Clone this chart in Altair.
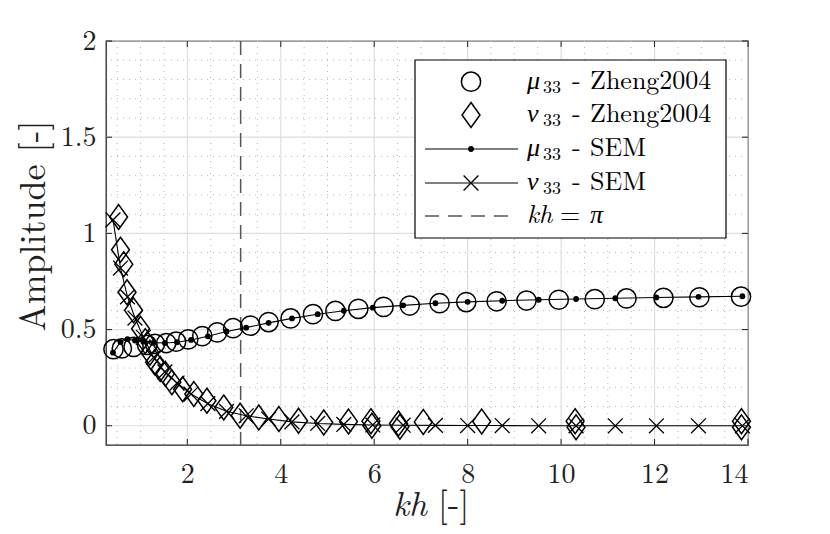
import altair as alt
import pandas as pd

# ---------------- data ----------------
sem_kh = [0.41, 0.57, 0.72, 0.88, 1.06, 1.28, 1.52, 1.78, 2.08, 2.44, 2.84, 3.26, 3.74, 4.24,
          4.79, 5.35, 5.97, 6.62, 7.31, 8.0, 8.74, 9.52, 10.32, 11.16, 12.04, 12.94, 13.88]
sem_mu = [0.38, 0.435, 0.45, 0.443, 0.437, 0.432, 0.43, 0.434, 0.446, 0.465, 0.49, 0.51, 0.535, 0.558,
          0.58, 0.598, 0.614, 0.626, 0.637, 0.644, 0.65, 0.655, 0.659, 0.663, 0.667, 0.67, 0.673]
sem_nu = [1.07, 0.82, 0.67, 0.56, 0.46, 0.355, 0.28, 0.222, 0.165, 0.115, 0.075, 0.052, 0.035, 0.02,
          0.012, 0.007, 0.004, 0.003, 0.002, 0.001, 0.001, 0.0, 0.0, 0.0, 0.0, 0.0, 0.0]

zheng_mu_kh = [0.42, 0.60, 0.85, 1.14, 1.31, 1.55, 1.76, 2.02, 2.32, 2.64, 2.98, 3.35, 3.74, 4.21,
               4.69, 5.17, 5.66, 6.20, 6.76, 7.40, 7.97, 8.62, 9.26, 9.95, 10.72, 11.40, 12.19, 12.96, 13.85]
zheng_mu = [0.398, 0.402, 0.41, 0.42, 0.426, 0.43, 0.437, 0.449, 0.466, 0.485, 0.507, 0.52, 0.539, 0.558,
            0.58, 0.597, 0.608, 0.618, 0.625, 0.637, 0.643, 0.647, 0.651, 0.655, 0.658, 0.662, 0.665, 0.668, 0.671]

zheng_nu_kh = [0.53, 0.57, 0.64, 0.71, 0.85, 1.0, 1.1, 1.2, 1.3, 1.42, 1.53, 1.67, 1.9, 2.14, 2.42, 2.78,
               3.13, 3.53, 3.96, 4.38, 4.92, 5.45, 5.93, 5.95, 6.52, 6.55, 7.05, 8.30, 10.30, 10.32, 13.86, 13.86]
zheng_nu = [1.085, 0.915, 0.84, 0.694, 0.6, 0.504, 0.44, 0.38, 0.33, 0.295, 0.27, 0.226, 0.19, 0.165, 0.13, 0.095,
            0.052, 0.043, 0.035, 0.026, 0.017, 0.022, 0.024, 0.0, 0.012, -0.005, 0.02, 0.022, 0.024, -0.008, 0.024, -0.008]

pi_kh = [3.14159]

x_ticks = [2, 4, 6, 8, 10, 12, 14]
y_ticks = [0, 0.5, 1, 1.5, 2]
x_minor = [v / 2 for v in range(1, 28) if v % 4 != 0]
y_minor = [v / 10 for v in range(1, 20) if v % 5 != 0]

# ---------------- layout / style ----------------
W, H = 642, 404
FONT = "Latin Modern Roman"
TXT = "#1f1f1f"

xs = alt.Scale(domain=[0.26, 14], nice=False, zero=False)
ys = alt.Scale(domain=[-0.1, 2], nice=False, zero=False)
xaxis = alt.Axis(values=x_ticks, grid=False, ticks=False, domain=False, title=None, format="d",
                 labelFont=FONT, labelFontSize=28, labelColor=TXT, labelPadding=15)
yaxis = alt.Axis(values=y_ticks, grid=False, ticks=False, domain=False, title=None, format="~g",
                 labelFont=FONT, labelFontSize=28, labelColor=TXT, labelPadding=10)
X = alt.X("kh:Q", scale=xs, axis=xaxis)
Y = alt.Y("amp:Q", scale=ys, axis=yaxis)

sem_mu_df = pd.DataFrame({"kh": sem_kh, "amp": sem_mu})
sem_nu_df = pd.DataFrame({"kh": sem_kh, "amp": sem_nu})
z_mu_df = pd.DataFrame({"kh": zheng_mu_kh, "amp": zheng_mu})
z_nu_df = pd.DataFrame({"kh": zheng_nu_kh, "amp": zheng_nu})

DIAMOND = "M0,-1L0.72,0L0,1L-0.72,0Z"
CROSS = "M-1,-1L1,1M-1,1L1,-1"
C_SIZE, D_SIZE, X_SIZE, DOT_SIZE = 370, 620, 220, 34

# grids
xminor = alt.Chart(pd.DataFrame({"kh": x_minor})).mark_rule(
    color="#b5b5b5", strokeWidth=1, strokeDash=[1, 5]).encode(x=X)
yminor = alt.Chart(pd.DataFrame({"amp": y_minor})).mark_rule(
    color="#b5b5b5", strokeWidth=1, strokeDash=[1, 5]).encode(y=Y)
xmajor = alt.Chart(pd.DataFrame({"kh": x_ticks})).mark_rule(
    color="#dedede", strokeWidth=1.2).encode(x=X)
ymajor = alt.Chart(pd.DataFrame({"amp": y_ticks})).mark_rule(
    color="#dedede", strokeWidth=1.2).encode(y=Y)

# inward ticks
tick_b = alt.Chart(pd.DataFrame({"kh": x_ticks})).mark_rule(color=TXT, strokeWidth=1).encode(
    x=X, y=alt.value(H), y2=alt.value(H - 6))
tick_t = alt.Chart(pd.DataFrame({"kh": x_ticks})).mark_rule(color=TXT, strokeWidth=1).encode(
    x=X, y=alt.value(0), y2=alt.value(6))
tick_l = alt.Chart(pd.DataFrame({"amp": y_ticks})).mark_rule(color=TXT, strokeWidth=1).encode(
    y=Y, x=alt.value(0), x2=alt.value(6))
tick_r = alt.Chart(pd.DataFrame({"amp": y_ticks})).mark_rule(color=TXT, strokeWidth=1).encode(
    y=Y, x=alt.value(W - 6), x2=alt.value(W))

pi_line = alt.Chart(pd.DataFrame({"kh": pi_kh})).mark_rule(
    color="#555555", strokeWidth=1.5, strokeDash=[14, 9]).encode(x=X)

# data
mu_line = alt.Chart(sem_mu_df).mark_line(color="black", strokeWidth=1.1).encode(x=X, y=Y)
nu_line = alt.Chart(sem_nu_df).mark_line(color="black", strokeWidth=1.1).encode(x=X, y=Y)
circles = alt.Chart(z_mu_df).mark_point(shape="circle", size=C_SIZE, filled=False, color="black",
                                        strokeWidth=1.5, opacity=1).encode(x=X, y=Y)
diamonds = alt.Chart(z_nu_df).mark_point(shape=DIAMOND, size=D_SIZE, filled=False, color="black",
                                         strokeWidth=1.5, opacity=1).encode(x=X, y=Y)
dots = alt.Chart(sem_mu_df).mark_point(shape="circle", size=DOT_SIZE, filled=True, color="black",
                                       opacity=1).encode(x=X, y=Y)
crosses = alt.Chart(sem_nu_df).mark_point(shape=CROSS, size=X_SIZE, filled=False, color="black",
                                          strokeWidth=1.3, opacity=1).encode(x=X, y=Y)

# titles
one = pd.DataFrame({"a": [0]})
def txt(s, x, y, size, italic=False, align="left", angle=0, color=TXT):
    kw = dict(text=s, font=FONT, fontSize=size, align=align, baseline="alphabetic", color=color)
    if italic:
        kw["fontStyle"] = "italic"
    if angle:
        kw["angle"] = angle
    return alt.Chart(one).mark_text(**kw).encode(x=alt.value(x), y=alt.value(y))

ytitle = txt("Amplitude [-]", -61, 185, 36, align="center", angle=270)
xt1 = txt("kh", 321, 475, 35, italic=True, align="right")
xt2 = txt("[-]", 332, 475, 35)

# legend
lg_box = alt.Chart(one).mark_rect(fill="white", stroke="black", strokeWidth=1.2).encode(
    x=alt.value(309), x2=alt.value(620), y=alt.value(19), y2=alt.value(197))
rows = [40.7, 74.0, 108.0, 142.0, 175.0]
sx = 365
lg_c = alt.Chart(one).mark_point(shape="circle", size=C_SIZE, filled=False, color="black",
                                 strokeWidth=1.5, opacity=1).encode(x=alt.value(sx), y=alt.value(rows[0]))
lg_d = alt.Chart(one).mark_point(shape=DIAMOND, size=D_SIZE, filled=False, color="black",
                                 strokeWidth=1.5, opacity=1).encode(x=alt.value(sx), y=alt.value(rows[1]))
lg_l3 = alt.Chart(one).mark_rule(color="black", strokeWidth=1.1).encode(
    x=alt.value(319), x2=alt.value(412), y=alt.value(rows[2]))
lg_dot = alt.Chart(one).mark_point(shape="circle", size=DOT_SIZE, filled=True, color="black",
                                   opacity=1).encode(x=alt.value(sx), y=alt.value(rows[2]))
lg_l4 = alt.Chart(one).mark_rule(color="black", strokeWidth=1.1).encode(
    x=alt.value(319), x2=alt.value(412), y=alt.value(rows[3]))
lg_x = alt.Chart(one).mark_point(shape=CROSS, size=X_SIZE, filled=False, color="black",
                                 strokeWidth=1.3, opacity=1).encode(x=alt.value(sx), y=alt.value(rows[3]))
lg_l5 = alt.Chart(one).mark_rule(color="#555555", strokeWidth=1.5, strokeDash=[14, 9]).encode(
    x=alt.value(319), x2=alt.value(404), y=alt.value(rows[4]))

legend_texts = []
names = [("μ", "Zheng2004"), ("ν", "Zheng2004"), ("μ", "SEM"), ("ν", "SEM")]
for r, (g, n) in zip(rows[:4], names):
    legend_texts += [
        txt(g, 421, r + 7, 26, italic=True, color="black"),
        txt("33", 437, r + 11, 18, color="black"),
        txt("-", 466, r + 7, 26, color="black"),
        txt(n, 484, r + 7, 26, color="black"),
    ]
legend_texts += [
    txt("kh", 421, rows[4] + 7, 26, italic=True, color="black"),
    txt("=", 454, rows[4] + 7, 26, color="black"),
    txt("π", 484, rows[4] + 7, 26, italic=True, color="black"),
]

chart = alt.layer(
    xminor, yminor, xmajor, ymajor, pi_line,
    mu_line, nu_line, circles, diamonds, dots, crosses,
    tick_b, tick_t, tick_l, tick_r,
    ytitle, xt1, xt2,
    lg_box, lg_c, lg_d, lg_l3, lg_dot, lg_l4, lg_x, lg_l5, *legend_texts,
).properties(
    width=W, height=H,
    autosize=alt.AutoSizeParams(type="none"),
    padding={"left": 98, "top": 33, "right": 70, "bottom": 80},
    background="white",
).configure_view(stroke="#262626", strokeWidth=1.3)

chart.save("out.html", embed_options={"renderer": "svg", "actions": False})
